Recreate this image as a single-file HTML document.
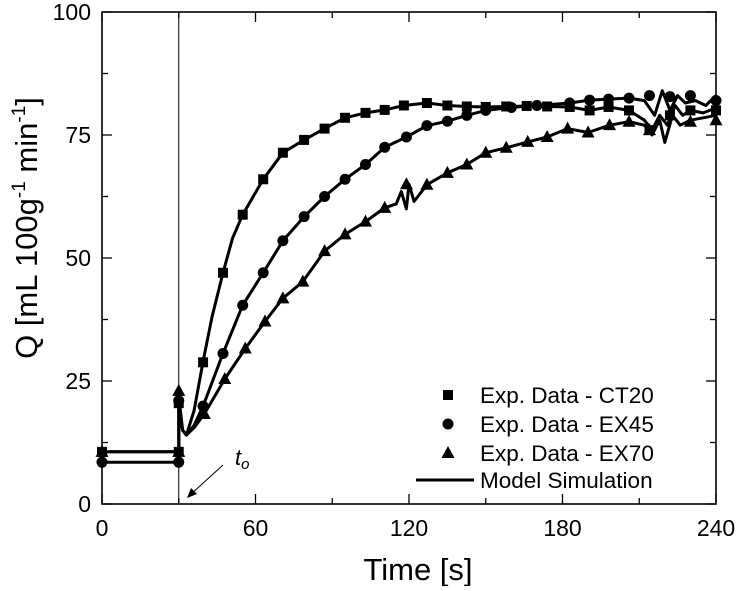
<!DOCTYPE html>
<html><head><meta charset="utf-8"><style>
body{margin:0;background:#fff;}
svg text{font-family:"Liberation Sans",Arial,sans-serif;fill:#000;}
</style></head><body>
<svg id="chart" width="737" height="586" xmlns="http://www.w3.org/2000/svg">
<g id="plot"></g>
</svg>
<script>
const xTicks=[0,60,120,180,240];
const yTicks=[0,25,50,75,100];
const ctT=[0,30,30,39.5,47.3,55,63,70.7,79,87,95,103,110.5,118,127,135,142.6,150,158,166,174,182.8,190.6,198,206,214,222,230,240];
const ctQ=[10.6,10.6,20.5,28.8,47,58.8,66,71.4,74,76.3,78.5,79.5,80.1,81,81.5,81,80.8,80.7,80.8,80.9,80.8,80.7,80,80.7,80,76,79,80,80];
const exT=[0,30,30,39.5,47.3,55,63,70.7,79,87,95,103,110.5,119,127,135,142.6,150,160,170,182.8,190.6,198,206,214,222,230,240];
const exQ=[8.5,8.5,21,19.9,30.6,40.4,47,53.5,58.4,62.5,66,69,72.5,74.6,76.9,77.8,79,80,80.6,81,81.5,82.1,82.3,82.5,83,82.8,83,82];
const e7T=[0,30,30,40,48,56,63.7,70.7,78.5,87,95,103,110.5,119,127,135,142.6,150,158,166.4,174,182,190,198.4,206,214,230,240];
const e7Q=[10.6,10.6,23,18.3,25.4,31.6,37.1,41.8,45.2,51.4,54.8,57.4,60.2,65,64.9,67.3,69,71.4,72.4,73.6,74.6,76.3,75.5,77,77.7,76,77.7,78];
const mCtT=[0,30,30,31.5,33,36,39.5,43,47.3,51,55,63,70.7,79,87,95,103,110.5,118,127,135,142.6,150,158,166,174,182.8,190.6,198,206,212,215,218,221,224,227,230,235,240];
const mCtQ=[10.6,10.6,20,15,14,19,29,38,47,54,58.8,66,71.4,74,76.3,78.5,79.5,80.1,81,81.5,81,80.8,80.7,80.8,80.9,80.8,80.7,80,80.7,80,78,76,79,77,81,79,80,79.5,80.5];
const mExT=[0,30,30,31.5,33,36,39.5,47.3,55,63,70.7,79,87,95,103,110.5,119,127,135,142.6,150,160,170,182.8,190.6,198,206,212,216,219,222,225,228,232,236,240];
const mExQ=[8.5,8.5,20,15,14,16,19.9,30.6,40.4,47,53.5,58.4,62.5,66,69,72.5,74.6,76.9,77.8,79,80,80.6,81,81.5,82.1,82.3,82.5,82,79,84,80,83,81.5,82,81,83];
const mE7T=[0,30,30,31.5,33,36,40,48,56,63.7,70.7,78.5,87,95,103,110.5,115,117,119,120,122,127,135,142.6,150,158,166.4,174,182,190,198.4,206,212,215,218,220,223,226,230,235,240];
const mE7Q=[10.6,10.6,22,15,14,15.5,18.3,25.4,31.6,37.1,41.8,45.2,51.4,54.8,57.4,60.2,61,63.5,60,65,61.5,64.9,67.3,69,71.4,72.4,73.6,74.6,76.3,75.5,77,77.7,77,75,78,73.5,79,77,78,78.5,79];
const X0=102,X1=716,Y0=504,Y1=12;
const sx=t=>X0+(t-0)/240*(X1-X0);
const sy=q=>Y0-(q-0)/100*(Y0-Y1);
const NS="http://www.w3.org/2000/svg";
const svg=document.getElementById('chart');
const g=document.getElementById('plot');
function mk(tag,attrs,parent){const e=document.createElementNS(NS,tag);for(const k in attrs)e.setAttribute(k,attrs[k]);(parent||g).appendChild(e);return e;}
let fr=mk('rect',{x:X0,y:Y1,width:X1-X0,height:Y0-Y1,fill:'none',stroke:'#000','stroke-width':1.6});


let vl=mk('line',{x1:sx(30),x2:sx(30),y1:Y1,y2:Y0,stroke:'#000','stroke-width':1});


for(let t=0;t<=240;t+=30){const major=t%60===0;const L=major?10:6;
 let a=mk('line',{x1:sx(t),x2:sx(t),y1:Y0,y2:Y0-L,stroke:'#000','stroke-width':1.3});
 
 
 let b=mk('line',{x1:sx(t),x2:sx(t),y1:Y1,y2:Y1+L,stroke:'#000','stroke-width':1.3});
 
 }
for(let q=0;q<=100;q+=12.5){const major=q%25===0;const L=major?10:6;
 let a=mk('line',{x1:X0,x2:X0+L,y1:sy(q),y2:sy(q),stroke:'#000','stroke-width':1.3});
 
 
 let b=mk('line',{x1:X1,x2:X1-L,y1:sy(q),y2:sy(q),stroke:'#000','stroke-width':1.3});
 
 }
xTicks.forEach(t=>{let e=mk('text',{x:sx(t),y:536,'text-anchor':'middle','font-size':23});e.textContent=t;
 
 });
yTicks.forEach(q=>{let e=mk('text',{x:X0-11,y:sy(q)+8,'text-anchor':'end','font-size':23});e.textContent=q;
 
 });
function line(T,Q,name){let d=T.map((t,i)=>(i?'L':'M')+sx(t).toFixed(1)+','+sy(Q[i]).toFixed(1)).join('');
 let p=mk('path',{d:d,fill:'none',stroke:'#000','stroke-width':3,'stroke-linejoin':'round'});
 
 }
line(mCtT,mCtQ,'model-line-ct20');line(mExT,mExQ,'model-line-ex45');line(mE7T,mE7Q,'model-line-ex70');
function marker(type,x,y){let e;
 if(type==='sq')e=mk('rect',{x:x-5,y:y-5,width:10,height:10,fill:'#000'});
 else if(type==='ci')e=mk('circle',{cx:x,cy:y,r:5.5,fill:'#000'});
 else e=mk('polygon',{points:`${x},${y-7} ${x-6.5},${y+5} ${x+6.5},${y+5}`,fill:'#000'});
 return e;}
ctT.forEach((t,i)=>{let e=marker('sq',sx(t),sy(ctQ[i]));
 
 });
exT.forEach((t,i)=>{let e=marker('ci',sx(t),sy(exQ[i]));
 
 });
e7T.forEach((t,i)=>{let e=marker('tr',sx(t),sy(e7Q[i]));
 
 });
const legY=[403,432,461,488];
const legTxt=['Exp. Data - CT20','Exp. Data - EX45','Exp. Data - EX70','Model Simulation'];
const legM=['sq','ci','tr'];
legTxt.forEach((s,i)=>{
 if(i<3){let m=marker(legM[i],448,legY[i]-8);
  
  }
 else{let l=mk('line',{x1:416,x2:474,y1:legY[i]-8,y2:legY[i]-8,stroke:'#000','stroke-width':3});
  
  }
 let t=mk('text',{x:480,y:legY[i],'font-size':22.5});t.textContent=s;
 
 });
let ar=mk('line',{x1:223,x2:190,y1:465,y2:495,stroke:'#000','stroke-width':1});


let ah=mk('polygon',{points:'187,498 191,488 197,494',fill:'#000'});


let tt=mk('text',{x:235,y:465,'font-size':22,'font-style':'italic'});
tt.innerHTML='t<tspan font-size="15" dy="4">o</tspan>';


let xt=mk('text',{x:418,y:580,'text-anchor':'middle','font-size':31});xt.textContent='Time [s]';


let yt=mk('text',{x:0,y:0,'text-anchor':'middle','font-size':31,transform:'translate(37,228) rotate(-90)'});
yt.innerHTML='Q [mL 100g<tspan font-size="19" dy="-12">-1</tspan><tspan dy="12"> min</tspan><tspan font-size="19" dy="-12">-1</tspan><tspan dy="12">]</tspan>';


</script>
</body></html>
